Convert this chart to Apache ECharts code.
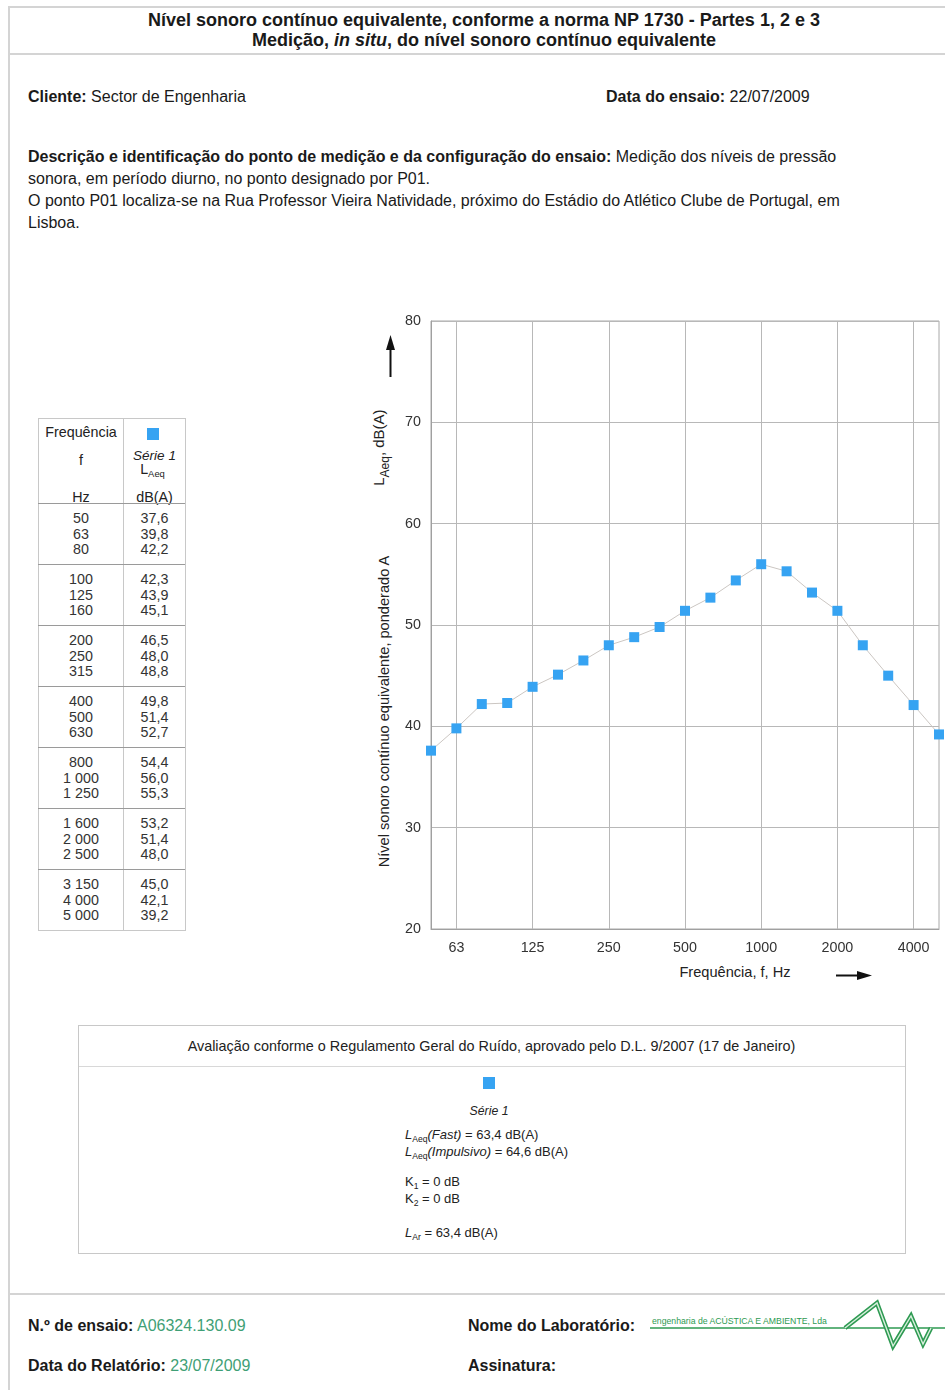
<!DOCTYPE html>
<html>
<head>
<meta charset="utf-8">
<title>Nível sonoro contínuo equivalente</title>
<script src="https://cdn.jsdelivr.net/npm/echarts@6/dist/echarts.min.js"></script>
<style>
  html, body { margin: 0; padding: 0; background: #fff; }
  body { width: 945px; height: 1390px; position: relative; overflow: hidden;
         font-family: "Liberation Sans", Arial, sans-serif; color: #1a1a1a; }
  .t { position: absolute; white-space: nowrap; }
  .hl { position: absolute; background: #d4d4d4; }
  .green { color: #3f9f76; }
  sub { font-size: 0.66em; vertical-align: -0.35em; }
  #chart { position: absolute; left: 360px; top: 300px; width: 585px; height: 700px; }
</style>
</head>
<body>
<div id="page"></div>
<div id="chart"></div>
<script>
// Third-octave band centre frequencies (Hz) and measured LAeq per band, dB(A)
const frequencies = [50, 63, 80, 100, 125, 160, 200, 250, 315, 400, 500, 630, 800, 1000, 1250, 1600, 2000, 2500, 3150, 4000, 5000];
const laeqSerie1 = [37.6, 39.8, 42.2, 42.3, 43.9, 45.1, 46.5, 48.0, 48.8, 49.8, 51.4, 52.7, 54.4, 56.0, 55.3, 53.2, 51.4, 48.0, 45.0, 42.1, 39.2];
// Bands that carry a label and a vertical grid line on the frequency axis
const labelledBands = [63, 125, 250, 500, 1000, 2000, 4000];
// Level axis range and step, dB(A)
const levelAxis = [20, 80, 10];
// Evaluation summary (RGR, D.L. 9/2007)
const laeqFast = [63.4];
const laeqImpulsivo = [64.6];
const k1k2 = [0, 0];
const lar = [63.4];

const markerColor = '#36a3f2';
const page = document.getElementById('page');

function fmtDb(v) { return v.toFixed(1).replace('.', ','); }
function fmtHz(v) { return String(v).replace(/\B(?=(\d{3})+(?!\d))/g, ' '); }

// Positioned text: x is left edge (or centre when align='center'), y is vertical centre
function put(html, x, y, opts) {
  opts = opts || {};
  const d = document.createElement('div');
  d.className = 't';
  d.innerHTML = html;
  const fs = opts.size || 14;
  const lh = opts.lh || Math.round(fs * 1.3);
  d.style.fontSize = fs + 'px';
  d.style.lineHeight = lh + 'px';
  d.style.top = (y - lh / 2) + 'px';
  if (opts.ls) d.style.letterSpacing = opts.ls + 'px';
  if (opts.align === 'center') {
    d.style.left = (x - 400) + 'px';
    d.style.width = '800px';
    d.style.textAlign = 'center';
  } else {
    d.style.left = x + 'px';
  }
  if (opts.color) d.style.color = opts.color;
  if (opts.style) d.setAttribute('style', d.getAttribute('style') + ';' + opts.style);
  page.appendChild(d);
  return d;
}
function rule(x, y, w, h, color) {
  const d = document.createElement('div');
  d.className = 'hl';
  d.style.left = x + 'px'; d.style.top = y + 'px';
  d.style.width = w + 'px'; d.style.height = h + 'px';
  if (color) d.style.background = color;
  page.appendChild(d);
}
function square(cx, cy, s) {
  const d = document.createElement('div');
  d.style.cssText = 'position:absolute;background:' + markerColor + ';left:' + (cx - s / 2) + 'px;top:' + (cy - s / 2) + 'px;width:' + s + 'px;height:' + s + 'px';
  page.appendChild(d);
}

// ---- Page frame and header ----
rule(8, 6, 937, 2);
rule(8, 53, 937, 2);
rule(8, 6, 2, 1384);
rule(8, 1293, 937, 2);
put('<b>Nível sonoro contínuo equivalente, conforme a norma NP 1730 - Partes 1, 2 e 3</b>', 484, 20, {size: 18, lh: 20, align: 'center'});
put('<b>Medição, <i>in situ</i>, do nível sonoro contínuo equivalente</b>', 484, 40, {size: 18, lh: 20, align: 'center'});

put('<b>Cliente:</b> Sector de Engenharia', 28, 96, {size: 16});
put('<b>Data do ensaio:</b> 22/07/2009', 606, 96, {size: 16});

put('<b>Descrição e identificação do ponto de medição e da configuração do ensaio:</b> Medição dos níveis de pressão', 28, 157, {size: 16, lh: 22});
put('sonora, em período diurno, no ponto designado por P01.', 28, 179, {size: 16, lh: 22});
put('O ponto P01 localiza-se na Rua Professor Vieira Natividade, próximo do Estádio do Atlético Clube de Portugal, em', 28, 201, {size: 16, lh: 22});
put('Lisboa.', 28, 223, {size: 16, lh: 22});

// ---- Data table ----
const tL = 38, tR = 185, tC = 123, tTop = 418, tBot = 930;
const tableLine = '#c8c8c8';
rule(tL, tTop, tR - tL, 1, tableLine);
rule(tL, tBot, tR - tL, 1, tableLine);
rule(tL, tTop, 1, tBot - tTop, tableLine);
rule(tR, tTop, 1, tBot - tTop + 1, tableLine);
rule(tC, tTop, 1, tBot - tTop, tableLine);
const c1 = (tL + tC) / 2 + 0.5, c2 = (tC + tR) / 2 + 0.5;
const tfs = 14.3;
put('Frequência', c1, 432, {size: tfs, align: 'center', color: '#222'});
square(153, 434, 12);
put('f', c1, 460, {size: tfs, align: 'center', color: '#222'});
put('<i>Série 1</i>', c2, 456, {size: 13.5, align: 'center', color: '#222'});
put('L<sub>Aeq</sub>', c2 - 2, 469, {size: tfs, align: 'center', color: '#222'});
put('Hz', c1, 497, {size: tfs, align: 'center', color: '#222'});
put('dB(A)', c2, 497, {size: tfs, align: 'center', color: '#222'});
const groupTop = 503, groupStep = 61;
for (let g = 0; g < 7; g++) {
  const top = groupTop + g * groupStep;
  rule(tL, top, tR - tL, 1, '#9a9a9a');
  for (let r = 0; r < 3; r++) {
    const i = g * 3 + r;
    const y = top + 15 + r * 15.5;
    put(fmtHz(frequencies[i]), c1, y, {size: tfs, align: 'center', lh: 16, color: '#333'});
    put(fmtDb(laeqSerie1[i]), c2, y, {size: tfs, align: 'center', lh: 16, color: '#333'});
  }
}

// ---- Axis titles and arrows ----
put('Nível sonoro contínuo equivalente, ponderado A', 384, 711, {size: 14.6, align: 'center', style: 'transform: rotate(-90deg); transform-origin: 50% 50%; color:#222'});
put('L<sub style="font-size:0.8em">Aeq</sub>, dB(A)', 382, 445, {size: 15, align: 'center', style: 'transform: rotate(-90deg); transform-origin: 50% 50%; color:#222'});
put('Frequência, f, Hz', 735, 972, {size: 14.6, align: 'center', color: '#222'});
const svgNS = 'http://www.w3.org/2000/svg';
const arrows = document.createElementNS(svgNS, 'svg');
arrows.setAttribute('width', '945'); arrows.setAttribute('height', '1390');
arrows.style.cssText = 'position:absolute;left:0;top:0;pointer-events:none';
const wave = '845,1328 877,1303 893,1346 911,1316 923,1344 931,1328';
arrows.innerHTML =
  '<line x1="390.5" y1="377" x2="390.5" y2="346" stroke="#111" stroke-width="2"/>' +
  '<polygon points="390.5,335 386,350 395,350" fill="#111"/>' +
  '<line x1="836" y1="975.5" x2="862" y2="975.5" stroke="#111" stroke-width="2"/>' +
  '<polygon points="872,975.5 857,971 857,980" fill="#111"/>' +
  // laboratory logo: underline and wave
  '<line x1="650" y1="1328" x2="945" y2="1328" stroke="#2e9a52" stroke-width="1.5"/>' +
  '<polyline points="' + wave + '" fill="none" stroke="#2e9a52" stroke-width="4.5" stroke-linejoin="miter"/>' +
  '<polyline points="' + wave + '" fill="none" stroke="#d8efdd" stroke-width="1.4"/>';
document.body.appendChild(arrows);

// ---- Evaluation box ----
const bL = 78, bR = 905, bT = 1025, bH = 1066, bB = 1253;
rule(bL, bT, bR - bL, 1, '#c8c8c8');
rule(bL, bH, bR - bL, 1, '#d8d8d8');
rule(bL, bB, bR - bL, 1, '#c8c8c8');
rule(bL, bT, 1, bB - bT, '#c8c8c8');
rule(bR, bT, 1, bB - bT + 1, '#c8c8c8');
put('Avaliação conforme o Regulamento Geral do Ruído, aprovado pelo D.L. 9/2007 (17 de Janeiro)', (bL + bR) / 2, 1046, {size: 14.4, align: 'center', color: '#222'});
square(489, 1083, 12);
put('<i>Série 1</i>', 489, 1111, {size: 12.3, align: 'center', color: '#222'});
const bx = 405, bs = 13, bc = '#222';
put('<i>L</i><sub>Aeq</sub><i>(Fast)</i> = ' + fmtDb(laeqFast[0]) + ' dB(A)', bx, 1135, {size: bs, lh: 16, color: bc});
put('<i>L</i><sub>Aeq</sub><i>(Impulsivo)</i> = ' + fmtDb(laeqImpulsivo[0]) + ' dB(A)', bx, 1152, {size: bs, lh: 16, color: bc});
put('K<sub>1</sub> = ' + k1k2[0] + ' dB', bx, 1182, {size: bs, lh: 16, color: bc});
put('K<sub>2</sub> = ' + k1k2[1] + ' dB', bx, 1199, {size: bs, lh: 16, color: bc});
put('<i>L</i><sub>Ar</sub> = ' + fmtDb(lar[0]) + ' dB(A)', bx, 1233, {size: bs, lh: 16, color: bc});

// ---- Footer ----
put('<b>N.º de ensaio:</b> <span class="green">A06324.130.09</span>', 28, 1325, {size: 16});
put('<b>Data do Relatório:</b> <span class="green">23/07/2009</span>', 28, 1365, {size: 16});
put('<b>Nome do Laboratório:</b>', 468, 1325, {size: 16});
put('<b>Assinatura:</b>', 468, 1365, {size: 16});
put('engenharia de ACÚSTICA E AMBIENTE, Lda', 652, 1321, {size: 8.7, color: '#2e9a52'});

// ---- Spectrum chart ----
const chart = echarts.init(document.getElementById('chart'), null, {renderer: 'canvas'});
const isLabelled = (idx) => labelledBands.indexOf(frequencies[idx]) >= 0;
chart.setOption({
  animation: false,
  grid: {left: 71, top: 21, right: 6, bottom: 71, show: true, borderColor: '#a8a8a8', borderWidth: 1, backgroundColor: 'transparent'},
  xAxis: {
    type: 'category',
    data: frequencies.map(String),
    boundaryGap: false,
    axisLine: {show: true, lineStyle: {color: '#a0a0a0', width: 1}},
    axisTick: {show: false},
    axisLabel: {interval: (idx) => isLabelled(idx), color: '#333', fontSize: 14.3, margin: 12,
                fontFamily: 'Liberation Sans, Arial, sans-serif'},
    splitLine: {show: true, interval: (idx) => isLabelled(idx), lineStyle: {color: '#b8b8b8', width: 1}}
  },
  yAxis: {
    type: 'value',
    min: levelAxis[0], max: levelAxis[1], interval: levelAxis[2],
    axisLine: {show: true, lineStyle: {color: '#a0a0a0', width: 1}},
    axisTick: {show: false},
    axisLabel: {color: '#333', fontSize: 14.3, margin: 10, fontFamily: 'Liberation Sans, Arial, sans-serif'},
    splitLine: {show: true, lineStyle: {color: '#b8b8b8', width: 1}}
  },
  series: [{
    name: 'Série 1',
    type: 'line',
    data: laeqSerie1,
    symbol: 'rect',
    symbolSize: 10,
    itemStyle: {color: markerColor},
    lineStyle: {color: '#cbc6c2', width: 1},
    clip: false
  }]
});
</script>
</body>
</html>
